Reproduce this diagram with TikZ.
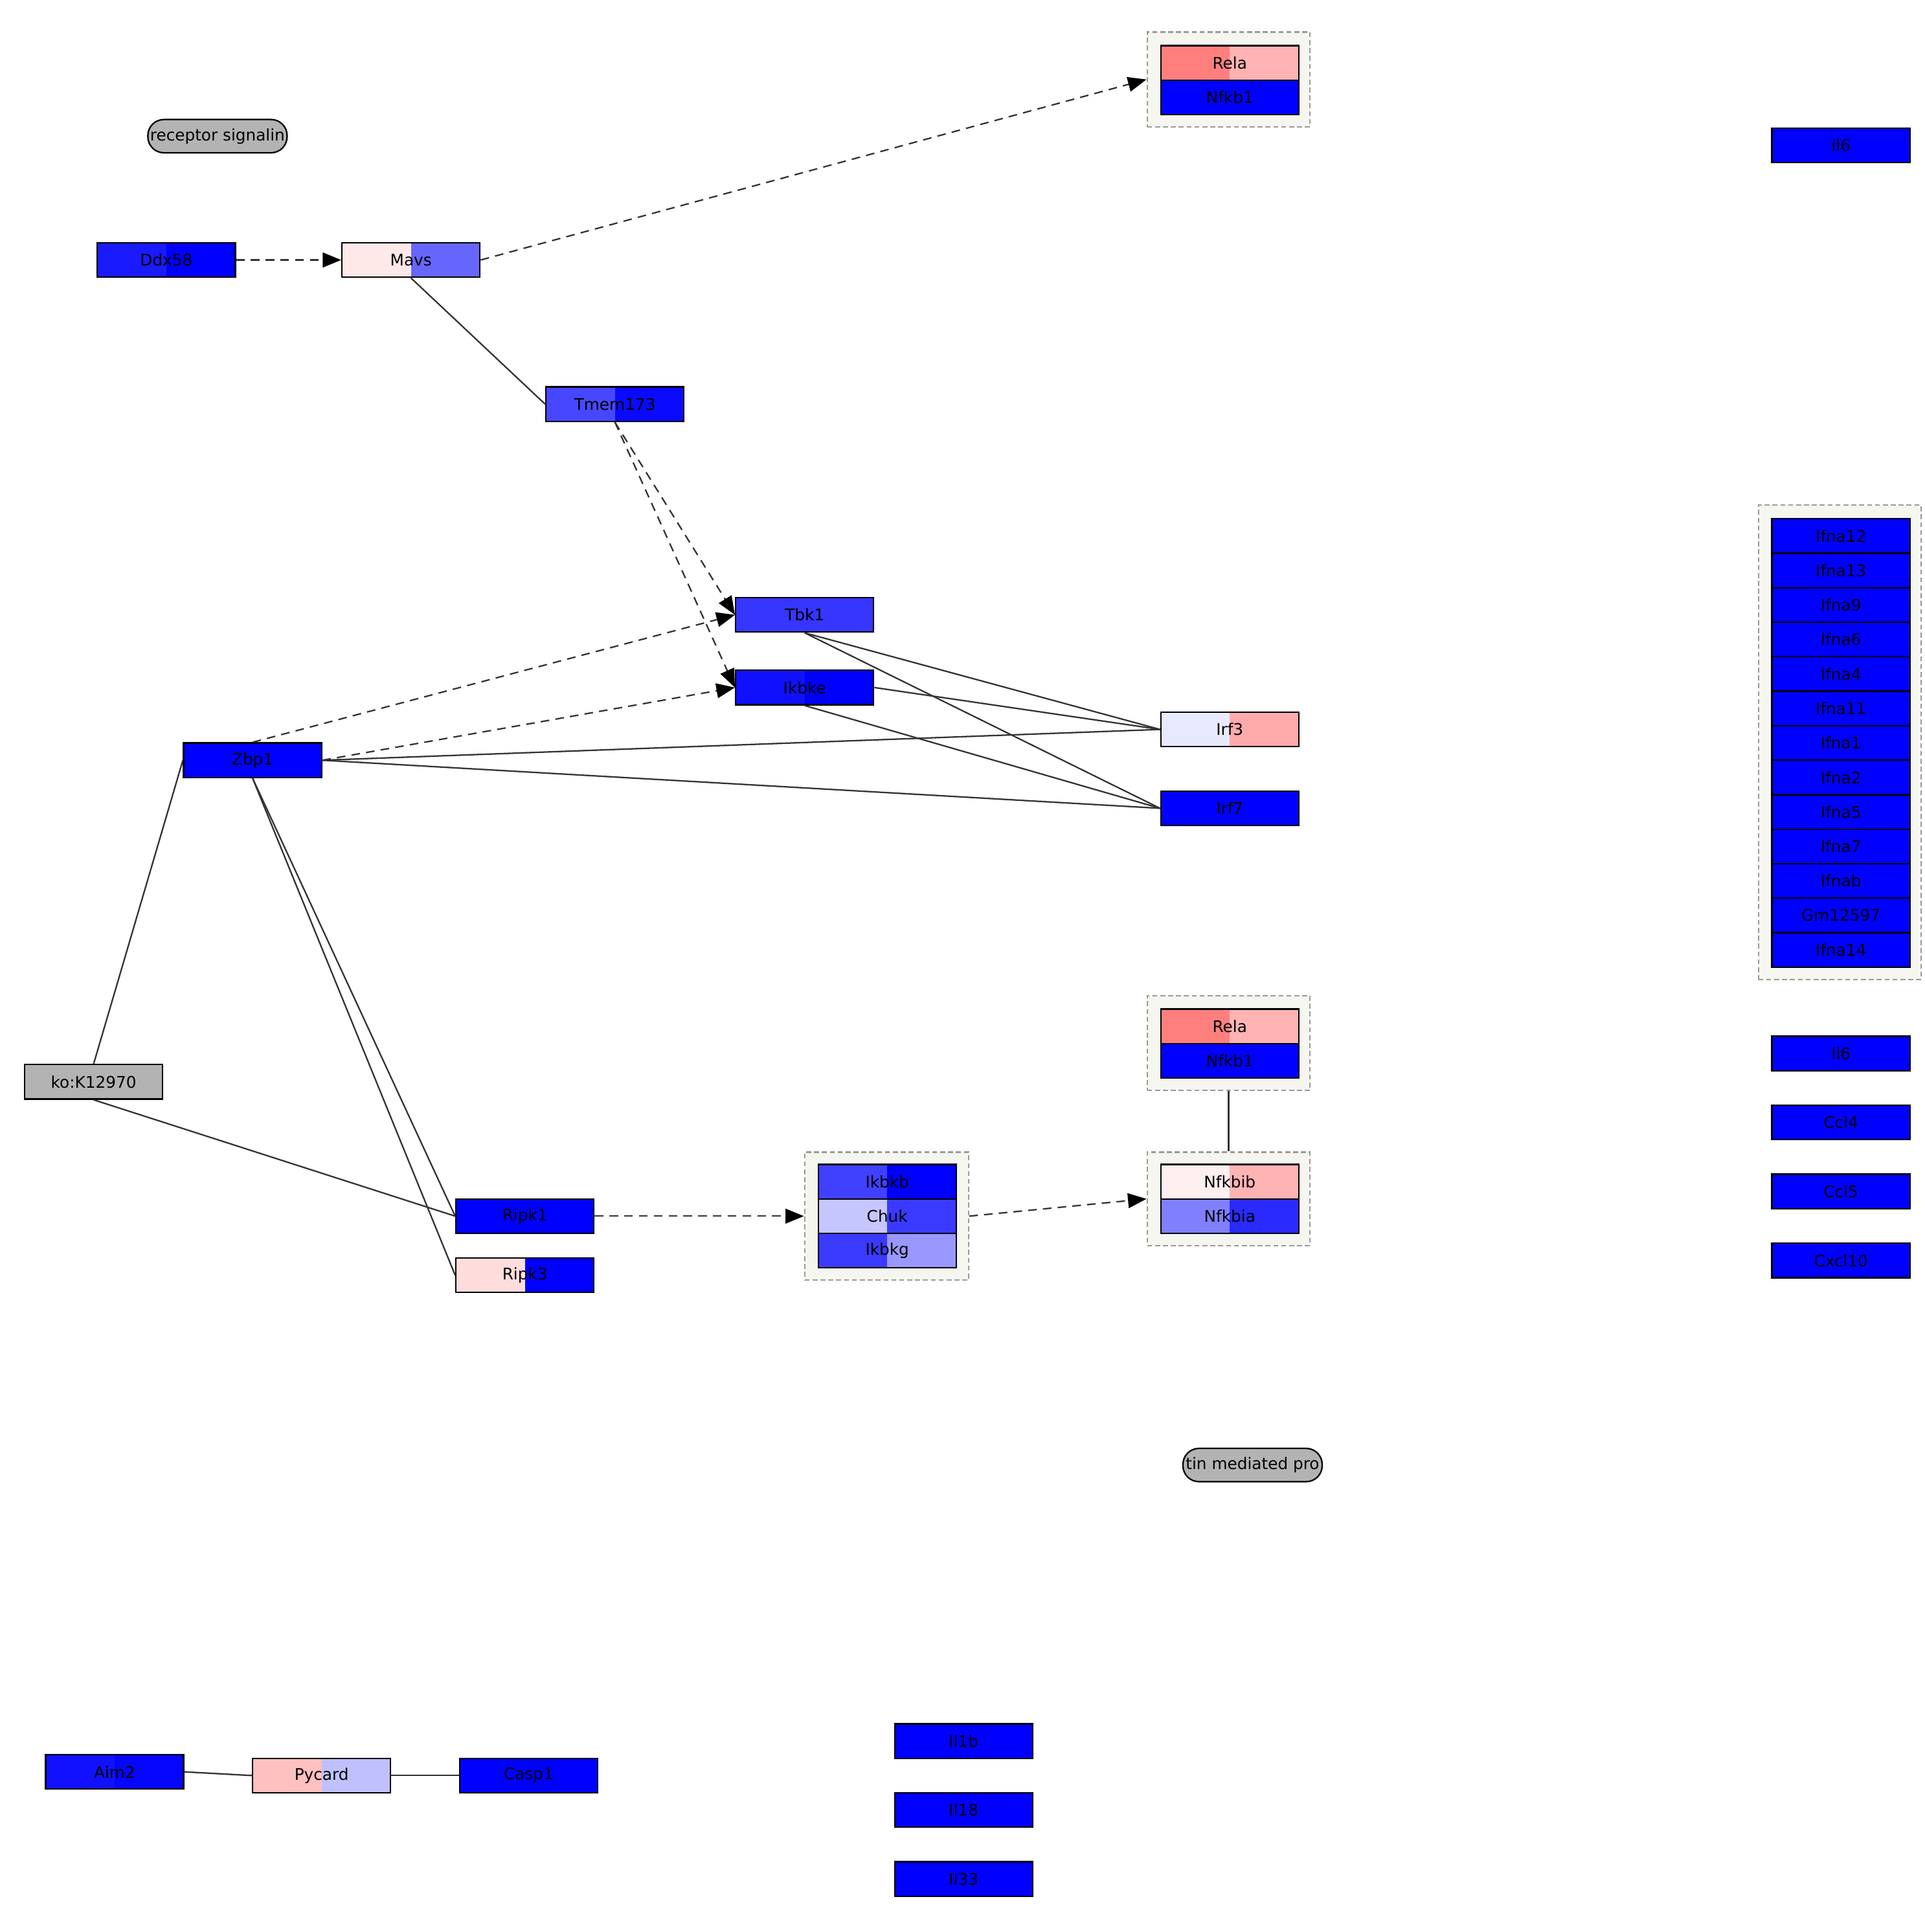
\documentclass[tikz,border=0pt]{standalone}
\usepackage{fontspec}
\setmainfont{DejaVu Sans}
\usetikzlibrary{arrows.meta,positioning}

\definecolor{kblue}{HTML}{0000FF}
\definecolor{kgray}{HTML}{B3B3B3}
\definecolor{cplxbg}{HTML}{F6F6F0}
\definecolor{ddxL}{HTML}{1A1AFF}
\definecolor{mavsL}{HTML}{FFE8E8}
\definecolor{mavsR}{HTML}{6666FF}
\definecolor{tmemL}{HTML}{4747FF}
\definecolor{tmemR}{HTML}{0A0AFF}
\definecolor{relaL}{HTML}{FF7F7F}
\definecolor{relaR}{HTML}{FFB3B3}
\definecolor{tbkC}{HTML}{3636FF}
\definecolor{ikbkeL}{HTML}{1010FF}
\definecolor{irfL}{HTML}{E8E8FF}
\definecolor{irfR}{HTML}{FFAAAA}
\definecolor{ripkL}{HTML}{FFDDDD}
\definecolor{ikbkbL}{HTML}{4040FF}
\definecolor{chukL}{HTML}{C6C6FF}
\definecolor{chukR}{HTML}{3A3AFF}
\definecolor{ikbkgL}{HTML}{3A3AFF}
\definecolor{ikbkgR}{HTML}{9898FF}
\definecolor{nfkbibL}{HTML}{FFF0F0}
\definecolor{nfkbibR}{HTML}{FFB3B3}
\definecolor{nfkbiaL}{HTML}{8080FF}
\definecolor{nfkbiaR}{HTML}{2A2AFF}
\definecolor{aimL}{HTML}{1111FF}
\definecolor{aimR}{HTML}{0606FF}
\definecolor{pycL}{HTML}{FFC0C0}
\definecolor{pycR}{HTML}{C0C0FF}

\begin{document}
\begin{tikzpicture}[x=0.5pt,y=-0.5pt,
  gene/.style 2 args={draw=black,line width=0.6pt,minimum width=56pt,minimum height=14pt,inner sep=0pt,
    font=\fontsize{6.5}{7}\selectfont,
    path picture={\fill[#1] (path picture bounding box.south west) rectangle (path picture bounding box.north);
                  \fill[#2] (path picture bounding box.south) rectangle (path picture bounding box.north east);}},
  cplx/.style={draw=black!40,line width=0.6pt,dash pattern=on 2pt off 1.2pt,fill=cplxbg,minimum width=66pt,inner sep=0pt},
  pill/.style={draw=black,line width=0.6pt,fill=kgray,rounded corners=6.5pt,minimum width=56.5pt,minimum height=13.5pt,
    inner sep=0pt,font=\fontsize{6.5}{7}\selectfont},
  rel/.style={draw=black!80,line width=0.6pt},
  act/.style={rel,dash pattern=on 3.5pt off 2.5pt,-{Triangle[length=7.5pt,width=6pt,fill=black,color=black]}}]

\path[fill=white] (0,0) rectangle (1562,1568);

\node[pill] (tlr) at (176.5,110.5) {receptor signalin};
\node[pill] (ubq) at (1016.5,1189) {tin mediated pro};

\node[gene={ddxL}{kblue}] (ddx58) at (135,211) {Ddx58};
\node[gene={mavsL}{mavsR}] (mavs) at (333.5,211) {Mavs};
\node[gene={tmemL}{tmemR}] (tmem173) at (499,328) {Tmem173};

\node[cplx,minimum height=38.5pt] (nfkbA) at (997,64.5) {};
\node[gene={relaL}{relaR}] (relaA) at (998,51) {Rela};
\node[gene={kblue}{kblue}] (nfkb1A) at (998,79) {Nfkb1};

\node[gene={kblue}{kblue}] (il6A) at (1494,118) {Il6};

\node[gene={tbkC}{tbkC}] (tbk1) at (653,499) {Tbk1};
\node[gene={ikbkeL}{kblue}] (ikbke) at (653,558) {Ikbke};
\node[gene={irfL}{irfR}] (irf3) at (998,592) {Irf3};
\node[gene={kblue}{kblue}] (irf7) at (998,656) {Irf7};
\node[gene={kblue}{kblue}] (zbp1) at (205,617) {Zbp1};
\node[gene={kgray}{kgray}] (ko) at (76,878) {ko:K12970};
\node[gene={kblue}{kblue}] (ripk1) at (426,987) {Ripk1};
\node[gene={ripkL}{kblue}] (ripk3) at (426,1035) {Ripk3};

\node[cplx,minimum width=66.5pt,minimum height=52pt] (ikk) at (719.5,987) {};
\node[gene={ikbkbL}{kblue}] (ikbkb) at (720,959) {Ikbkb};
\node[gene={chukL}{chukR}] (chuk) at (720,987) {Chuk};
\node[gene={ikbkgL}{ikbkgR}] (ikbkg) at (720,1015) {Ikbkg};

\node[cplx,minimum height=38.5pt] (nfkbB) at (997,846.5) {};
\node[gene={relaL}{relaR}] (relaB) at (998,833) {Rela};
\node[gene={kblue}{kblue}] (nfkb1B) at (998,861) {Nfkb1};

\node[cplx,minimum height=38pt] (nfkbi) at (997,973) {};
\node[gene={nfkbibL}{nfkbibR}] (nfkbib) at (998,959) {Nfkbib};
\node[gene={nfkbiaL}{nfkbiaR}] (nfkbia) at (998,987) {Nfkbia};

\node[cplx,minimum height=192.5pt] (ifna) at (1493,602.5) {};
\node[gene={kblue}{kblue}] (ifna12) at (1494,435) {Ifna12};
\node[gene={kblue}{kblue}] (ifna13) at (1494,463) {Ifna13};
\node[gene={kblue}{kblue}] (ifna9) at (1494,491) {Ifna9};
\node[gene={kblue}{kblue}] (ifna6) at (1494,519) {Ifna6};
\node[gene={kblue}{kblue}] (ifna4) at (1494,547) {Ifna4};
\node[gene={kblue}{kblue}] (ifna11) at (1494,575) {Ifna11};
\node[gene={kblue}{kblue}] (ifna1) at (1494,603) {Ifna1};
\node[gene={kblue}{kblue}] (ifna2) at (1494,631) {Ifna2};
\node[gene={kblue}{kblue}] (ifna5) at (1494,659) {Ifna5};
\node[gene={kblue}{kblue}] (ifna7) at (1494,687) {Ifna7};
\node[gene={kblue}{kblue}] (ifnab) at (1494,715) {Ifnab};
\node[gene={kblue}{kblue}] (gm12597) at (1494,743) {Gm12597};
\node[gene={kblue}{kblue}] (ifna14) at (1494,771) {Ifna14};

\node[gene={kblue}{kblue}] (il6B) at (1494,855) {Il6};
\node[gene={kblue}{kblue}] (ccl4) at (1494,911) {Ccl4};
\node[gene={kblue}{kblue}] (ccl5) at (1494,967) {Ccl5};
\node[gene={kblue}{kblue}] (cxcl10) at (1494,1023) {Cxcl10};

\node[gene={aimL}{aimR}] (aim2) at (93,1438) {Aim2};
\node[gene={pycL}{pycR}] (pycard) at (261,1441) {Pycard};
\node[gene={kblue}{kblue}] (casp1) at (429,1441) {Casp1};

\node[gene={kblue}{kblue}] (il1b) at (782,1413) {Il1b};
\node[gene={kblue}{kblue}] (il18) at (782,1469) {Il18};
\node[gene={kblue}{kblue}] (il33) at (782,1525) {Il33};

\draw[act] (ddx58.east) -- (mavs.west);
\draw[act] (mavs.east) -- (nfkbA.west);
\draw[rel] (mavs.south) -- (tmem173.west);
\draw[act] (tmem173.south) -- (tbk1.west);
\draw[act] (tmem173.south) -- (ikbke.west);
\draw[act] (zbp1.north) -- (tbk1.west);
\draw[act] (zbp1.east) -- (ikbke.west);
\draw[rel] (zbp1.east) -- (irf3.west);
\draw[rel] (zbp1.east) -- (irf7.west);
\draw[rel] (tbk1.south) -- (irf3.west);
\draw[rel] (tbk1.south) -- (irf7.west);
\draw[rel] (ikbke.east) -- (irf3.west);
\draw[rel] (ikbke.south) -- (irf7.west);
\draw[rel] (zbp1.west) -- (ko.north);
\draw[rel] (ko.south) -- (ripk1.west);
\draw[rel] (zbp1.south) -- (ripk1.west);
\draw[rel] (zbp1.south) -- (ripk3.west);
\draw[act] (ripk1.east) -- (ikk.west);
\draw[act] (ikk.east) -- (nfkbi.west);
\draw[rel] (nfkbB.south) -- (nfkbi.north);
\draw[rel] (aim2.east) -- (pycard.west);
\draw[rel] (pycard.east) -- (casp1.west);

\end{tikzpicture}
\end{document}
